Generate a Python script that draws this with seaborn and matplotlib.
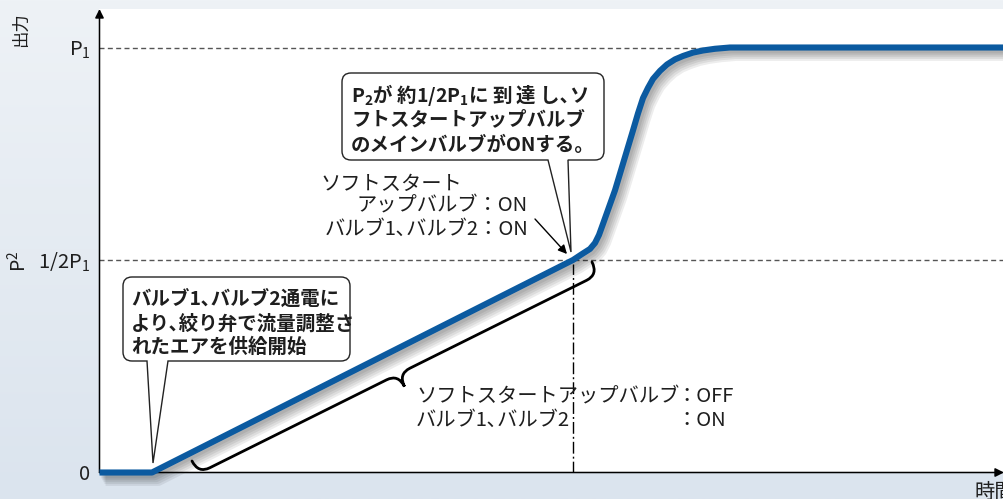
import numpy as np
import pandas as pd
import matplotlib
matplotlib.use("Agg")
import matplotlib.pyplot as plt
import matplotlib.transforms as mtransforms
import matplotlib.patheffects as pe
from matplotlib.path import Path
from matplotlib.patches import PathPatch, FancyArrowPatch
import seaborn as sns

# ---------------- data ----------------
time = [0, 52.5, 473.5, 482.5, 490.5, 495.5, 499.5, 503.5, 515.5, 533.5, 538.5,
        543.5, 548.5, 553.5, 560.5, 567.5, 575.5, 583.5, 593.5, 603.5, 615.5,
        630.5, 904.5]
output = [0, 0, 0.500, 0.514, 0.526, 0.540, 0.559, 0.585, 0.664, 0.805, 0.845,
          0.881, 0.905, 0.926, 0.945, 0.960, 0.972, 0.980, 0.988, 0.993, 0.997,
          1.0, 1.0]
ytick_vals = [0, 0.5, 1.0]
ytick_labels = ["0", r"1/2P$_1$", r"P$_1$"]

BLUE = "#0b5aa0"
TXT = "#1e1e1e"

sns.set_theme(style="white")
plt.rcParams["font.family"] = ["Noto Sans CJK JP", "DejaVu Sans"]
plt.rcParams["mathtext.default"] = "regular"

W, H = 1004, 499
fig = plt.figure(figsize=(W / 100, H / 100), dpi=100)
pix = mtransforms.Affine2D().scale(1, -1).translate(0, H)

# background gradient
bg = fig.add_axes([0, 0, 1, 1], zorder=-10)
g = np.linspace(0, 1, 256)[:, None, None]
top = np.array([238, 242, 246]) / 255
bot = np.array([219, 228, 238]) / 255
bg.imshow(top + (bot - top) * g, aspect="auto", extent=[0, 1, 0, 1])
bg.axis("off")

ax = fig.add_axes([99.5 / W, (H - 472.5) / H, (W - 99.5) / W, (472.5 - 9) / H])
ax.set_facecolor("white")

# reference lines
ax.axhline(ytick_vals[2], color="#555555", lw=1, dashes=(3.6, 2.4), zorder=1)
ax.axhline(ytick_vals[1], color="#555555", lw=1, dashes=(3.6, 2.4), zorder=1)
ax.plot([time[2], time[2]], [0, output[2] - 0.01], color="black", lw=1,
        dashes=(8.5, 2.2, 1.4, 2.2), zorder=2)

# main curve
df = pd.DataFrame({"time": time, "output": output})
sns.lineplot(data=df, x="time", y="output", ax=ax, color=BLUE, linewidth=4.4,
             sort=False, estimator=None, zorder=5)
line = ax.lines[-1]
line.set_clip_on(False)
line.set_solid_capstyle("butt")
line.set_solid_joinstyle("round")
shadows = [pe.SimpleLineShadow(offset=(o, -1.2 * o), shadow_color="black",
                               alpha=0.07, linewidth=4.4 + o)
           for o in (1.2, 2.0, 2.8, 3.6, 4.4)]
line.set_path_effects(shadows + [pe.Normal()])

ax.set_xlim(0, 904.5)
ax.set_ylim(0, (472.5 - 9) / 425)
ax.set_xlabel("")
ax.set_ylabel("")
ax.set_xticks([])
ax.set_yticks(ytick_vals, ytick_labels)
ax.tick_params(axis="y", length=0, pad=6.5, labelsize=14.5, labelcolor=TXT)
for s in ax.spines.values():
    s.set_visible(False)

# axes with arrows
for xy in [(0, 1), (1, 0)]:
    ax.annotate("", xy=xy, xycoords="axes fraction", xytext=(0, 0),
                textcoords="axes fraction", zorder=3,
                arrowprops=dict(arrowstyle="-|>", color="black", lw=1.1,
                                mutation_scale=13, shrinkA=0, shrinkB=0,
                                clip_on=False))

# ---------------- annotations (pixel layout, y down) ----------------
def callout(x0, y0, x1, y1, r, b0, b1, tip):
    v = [(x0 + r, y0), (x1 - r, y0), (x1, y0), (x1, y0 + r), (x1, y1 - r),
         (x1, y1), (x1 - r, y1), (b1, y1), tip, (b0, y1), (x0 + r, y1),
         (x0, y1), (x0, y1 - r), (x0, y0 + r), (x0, y0), (x0 + r, y0), (x0 + r, y0)]
    c = [Path.MOVETO, Path.LINETO, Path.CURVE3, Path.CURVE3, Path.LINETO,
         Path.CURVE3, Path.CURVE3, Path.LINETO, Path.LINETO, Path.LINETO,
         Path.LINETO, Path.CURVE3, Path.CURVE3, Path.LINETO, Path.CURVE3,
         Path.CURVE3, Path.CLOSEPOLY]
    fig.add_artist(PathPatch(Path(v, c), transform=pix, facecolor="white",
                             edgecolor="#222222", lw=1.0, zorder=6))


def brace(p0, p1, h, c, r):
    p0 = np.array(p0, float)
    p1 = np.array(p1, float)
    L = np.linalg.norm(p1 - p0)
    d = (p1 - p0) / L
    n = np.array([-d[1], d[0]])
    loc = [(0, 0), (0, h), (r, h), (L / 2 - r, h), (L / 2, h), (L / 2, c),
           (L / 2, h), (L / 2 + r, h), (L - r, h), (L, h), (L, 0)]
    codes = [Path.MOVETO, Path.CURVE3, Path.CURVE3, Path.LINETO, Path.CURVE3,
             Path.CURVE3, Path.CURVE3, Path.CURVE3, Path.LINETO, Path.CURVE3,
             Path.CURVE3]
    pts = [tuple(p0 + s * d + v * n) for s, v in loc]
    fig.add_artist(PathPatch(Path(pts, codes), transform=pix, facecolor="none",
                             edgecolor="black", lw=2.0, capstyle="round",
                             zorder=6))


callout(123, 277, 350, 361, 9, 147, 168, (153, 463))
callout(342, 73, 604, 160, 9, 548, 568, (571, 252))
brace((192, 461), (592, 262), 14, 28, 13)

fig.add_artist(FancyArrowPatch((535, 219), (567, 254), transform=pix,
                               arrowstyle="-|>", mutation_scale=13, lw=1.0,
                               color="black", shrinkA=0, shrinkB=0, zorder=7))


def t(x, y, s, **kw):
    kw.setdefault("fontsize", 14.6)
    kw.setdefault("color", TXT)
    kw.setdefault("va", "center")
    fig.text(x, y, s, transform=pix, zorder=8, **kw)


for yy, s in zip([299, 323.5, 347.5],
                 ["バルブ1､バルブ2通電に", "より､絞り弁で流量調整さ", "れたエアを供給開始"]):
    t(131, yy, s, fontweight="bold", fontsize=14)

for yy, s in zip([95, 120, 145],
                 [r"P$_2$が 約1/2P$_1$に 到 達 し､ソ", "フトスタートアップバルブ",
                  "のメインバルブがONする。"]):
    t(351, yy, s, fontweight="bold", fontsize=14)

t(320, 184, "ソフトスタート")
t(528, 206, "アップバルブ：ON", ha="right")
t(528, 229.5, "バルブ1､バルブ2：ON", ha="right")

t(416, 397, "ソフトスタートアップバルブ")
t(416, 420, "バルブ1､バルブ2")
t(676, 397, "：OFF")
t(676, 420, "：ON")

t(21, 30, "出力", rotation=90, ha="center", fontsize=12.5)
t(19, 261, r"P$^2$", rotation=90, ha="center", fontsize=14)
t(975, 492, "時間", ha="left")

fig.savefig("out.png", dpi=100)
